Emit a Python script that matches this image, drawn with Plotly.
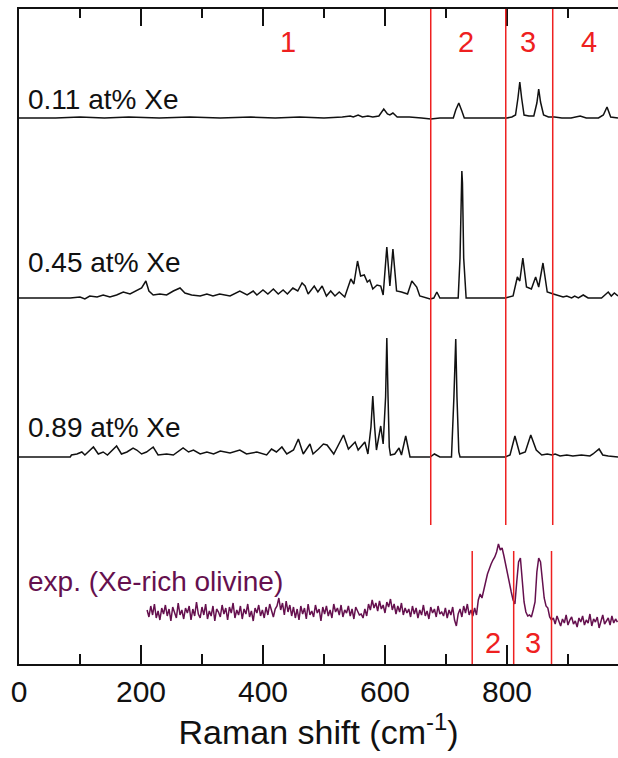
import numpy as np
import plotly.graph_objects as go

# ---------------- data (Raman shift in cm-1, intensity in arbitrary units) ----------------
x_011 = [0, 60, 100, 140, 180, 230, 280, 330, 380, 420, 460, 500, 530, 543, 548, 556, 563, 572, 580, 590,
         598, 604, 608, 613, 620, 640, 660, 675, 690, 712, 716, 721, 726, 730, 760, 800, 808, 814, 818, 821,
         824, 828, 836, 844, 849, 852, 855, 860, 868, 878, 890, 905, 920, 930, 950, 958, 964, 970, 982]
y_011 = [0, 0, 1, 0, 1, 0, 1, 0, 1, 0, 1, 0, 1, 2, 1, 3, 1, 2, 1, 2,
         9, 4, 3, 5, 1, 1, 0, -1, 0, 0, 8, 15, 7, 0, 0, 0, 1, 3, 20, 36,
         20, 3, 2, 2, 15, 29, 16, 3, 1, 1, 0, 0, 2, 0, 0, 3, 11, 1, 0]

x_045 = [0, 84, 100, 108, 116, 128, 138, 149, 160, 171, 182, 193, 201, 208, 213, 220, 231, 242, 253, 264,
         272, 283, 297, 308, 318, 329, 346, 362, 374, 384, 390, 400, 408, 417, 425, 433, 440, 449, 457, 464,
         469, 474, 484, 490, 497, 504, 511, 518, 525, 534, 544, 549, 555, 560, 566, 571, 575, 580, 587, 593,
         597, 603, 608, 613, 619, 627, 637, 644, 652, 657, 668, 674, 680, 685, 690, 720, 723, 725, 726, 727,
         729, 733, 797, 810, 817, 821, 826, 832, 840, 847, 852, 859, 866, 876, 881, 892, 898, 906, 911, 917,
         925, 933, 955, 961, 966, 971, 976, 982]
y_045 = [0, 0, 1, -1, 2, 1, 3, 1, 3, 6, 4, 7, 10, 17, 7, 3, 4, 3, 7, 10,
         5, 3, 2, 4, 2, 4, 2, 7, 3, 7, 3, 8, 4, 9, 4, 8, 4, 10, 7, 15,
         12, 4, 12, 6, 12, 2, 7, 2, 6, 1, 19, 14, 37, 22, 23, 16, 18, 9, 13, 12,
         3, 51, 12, 49, 7, 6, 4, 17, 11, 2, 0, -1, 0, 6, 0, 0, 40, 110, 127, 115,
         40, 0, 0, 2, 21, 17, 40, 11, 9, 21, 11, 35, 6, 4, 3, 1, 2, 0, 2, 0,
         3, 0, 0, 3, 6, 2, 5, 2]

x_089 = [0, 84, 86, 95, 103, 108, 122, 130, 138, 145, 160, 168, 177, 187, 193, 201, 209, 220, 228, 242,
         253, 269, 278, 286, 297, 308, 319, 330, 346, 362, 373, 390, 406, 414, 422, 431, 439, 450, 458, 463,
         466, 477, 482, 491, 499, 505, 516, 532, 540, 551, 556, 567, 572, 577, 580, 583, 586, 593, 597, 601,
         603, 605, 607, 609, 616, 623, 627, 634, 641, 674, 681, 690, 709, 713, 716, 718, 721, 723, 797, 805,
         813, 821, 830, 839, 848, 857, 866, 874, 879, 887, 898, 908, 922, 936, 941, 951, 957, 966, 982]
y_089 = [0, 0, 2, 3, 5, 2, 10, 3, 5, 2, 11, 3, 5, 9, 7, 3, 5, 10, 2, 3,
         2, 9, 5, 7, 3, 5, 3, 6, 4, 7, 3, 5, 2, 8, 5, 10, 3, 7, 18, 8,
         3, 13, 3, 8, 13, 12, 3, 22, 8, 15, 7, 15, 3, 30, 61, 30, 7, 31, 13, 60,
         119, 60, 10, 2, 3, 9, 2, 21, 0, 0, 3, 0, 0, 60, 118, 60, 5, 0, 0, 2,
         21, 3, 5, 22, 7, 2, 3, 2, 3, 1, 2, 1, 2, 1, 3, 8, 2, 1, 0]

exp_x = np.arange(210, 982, 3)
exp_y = [2, -5, 6, -3, 8, -6, 1, -8, 4, -2,
         7, -4, 3, -9, 5, 0, -6, 9, -3, 2,
         -7, 4, -1, 6, -8, 3, -4, 10, -2, -6,
         5, -3, 8, -7, 1, -4, 6, -9, 3, 0,
         -5, 7, -2, 4, -8, 5, -1, 9, -6, 2,
         -3, 6, -7, 3, -2, 8, -5, 1, -9, 4,
         -1, 7, -4, 2, -6, 5, -3, 8, 0, -5,
         3,
         6, 14, 2, 9, -3, 11, 0, 7, -4, 5,
         -6, 3, -8, 6, -2, 4, -7, 8, -3, 1,
         -5, 7, -1, 3, -9, 5, -2, 6, -4, 2,
         -6, 8, 0, 4, -3, 7, -5, 2, -1, 6,
         -4, 3, -7, 5, 0, -3,
         -2, -6, 3, -4, 8, 2, 12, 4, 9, 1,
         11, 3, 7, -1, 10, 5, 13, 2, 8, -2,
         6, 0, 9, -3, 4, -1,
         3, -5, 6, -2, 4, -6, 2, -3, 7, -4,
         1, -7, 5, -1, 3, -5, 6, -2, 0, -4,
         4, -6, 2, -3, 5, -8, -14, -2, 3, -5,
         6, -1, 8, -3, 2, -4,
         4, -3, 12, 18, 14, 24, 30, 38, 44, 48,
         52, 55, 60, 68, 62, 64, 56, 46, 36, 28,
         20, 12, 8, 30, 50, 54, 35, 10, 0, -4,
         -3, -5, 2, 10, 40, 54, 50, 28, 14, 6,
         4, -5, -8,
         -6, -12, -4, -10, -14, -7, -11, -3, -13, -8,
         -5, -12, -9, -15, -6, -10, -4, -13, -8, -11,
         -2, -14, -7, -10, -5, -16, -8, -3, -12, -9,
         -6, -13, -4, -11, -7, -10]

labels = ["0.11 at% Xe", "0.45 at% Xe", "0.89 at% Xe", "exp. (Xe-rich olivine)"]
offsets = [546, 366, 207, 52]            # vertical stacking offsets
sim_bounds = [675, 798, 875]             # region boundaries, computed spectra
exp_bounds = [743, 811, 873]             # region boundaries, experimental spectrum
sim_region_labels = ["1", "2", "3", "4"]
sim_region_x = [441, 732, 834, 934]
exp_region_labels = ["2", "3"]
exp_region_x = [777, 843]

# ---------------- figure ----------------
FONT = "Liberation Sans, Arial, Helvetica, sans-serif"
BLACK = "#111111"
PURPLE = "#65104e"
RED = "#ee2020"

fig = go.Figure()
series = [(x_011, y_011), (x_045, y_045), (x_089, y_089)]
for (xs, ys), off in zip(series, offsets[:3]):
    fig.add_trace(go.Scatter(x=xs, y=[v + off for v in ys], mode="lines",
                             line=dict(color=BLACK, width=1.5), showlegend=False, hoverinfo="skip"))
fig.add_trace(go.Scatter(x=exp_x, y=[v + offsets[3] for v in exp_y], mode="lines",
                         line=dict(color=PURPLE, width=1.5), showlegend=False, hoverinfo="skip"))
# invisible trace that anchors the top (mirror) axis
fig.add_trace(go.Scatter(x=[0], y=[0], xaxis="x2", mode="markers", marker=dict(opacity=0),
                         showlegend=False, hoverinfo="skip"))

for b in sim_bounds:
    fig.add_shape(type="line", x0=b, x1=b, y0=139, y1=655, xref="x", yref="y",
                  line=dict(color=RED, width=1.5), layer="above")
for b in exp_bounds:
    fig.add_shape(type="line", x0=b, x1=b, y0=0, y1=113, xref="x", yref="y",
                  line=dict(color=RED, width=1.5), layer="above")

label_y = [565, 402, 237, 83]
for txt, yy, col in zip(labels, label_y, [BLACK, BLACK, BLACK, PURPLE]):
    fig.add_annotation(x=12, y=yy, xref="x", yref="y", text=txt, showarrow=False,
                       xanchor="left", yanchor="middle", font=dict(family=FONT, size=28, color=col))
for t, xx in zip(sim_region_labels, sim_region_x):
    fig.add_annotation(x=xx, y=622, xref="x", yref="y", text=t, showarrow=False,
                       font=dict(family=FONT, size=29, color=RED))
for t, xx in zip(exp_region_labels, exp_region_x):
    fig.add_annotation(x=xx, y=21, xref="x", yref="y", text=t, showarrow=False,
                       font=dict(family=FONT, size=29, color=RED))

axis_common = dict(range=[0, 982], tickvals=[0, 200, 400, 600, 800], ticks="inside",
                   tickcolor=BLACK, tickwidth=1.5, showline=True, linecolor=BLACK, linewidth=1.5,
                   showgrid=False, zeroline=False)
fig.update_layout(
    width=618, height=758,
    margin=dict(l=19, r=0, t=9, b=94),
    paper_bgcolor="white", plot_bgcolor="white",
    xaxis=dict(**axis_common, ticklen=19,
               minor=dict(ticks="inside", dtick=100, ticklen=10, tickcolor=BLACK, tickwidth=1.5),
               tickfont=dict(family=FONT, size=30, color=BLACK),
               title=dict(text="Raman shift (cm<sup>-1</sup>)", font=dict(family=FONT, size=34, color=BLACK),
                          standoff=6)),
    xaxis2=dict(**axis_common, ticklen=17, overlaying="x", side="top", matches="x",
                minor=dict(ticks="inside", dtick=100, ticklen=9, tickcolor=BLACK, tickwidth=1.5),
                showticklabels=False),
    yaxis=dict(range=[0, 655], showline=True, linecolor=BLACK, linewidth=1.5, ticks="",
               showticklabels=False, showgrid=False, zeroline=False),
    font=dict(family=FONT),
)

fig.write_html("out.html")
